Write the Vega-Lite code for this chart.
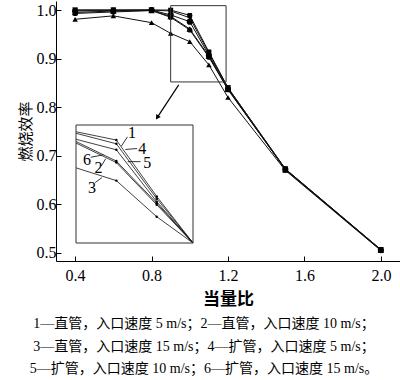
{
  "$schema": "https://vega.github.io/schema/vega-lite/v6.json",
  "width": 344,
  "height": 260,
  "autosize": {"type": "none"},
  "padding": {"left": 56, "top": 1, "right": 0, "bottom": 119},
  "background": "white",
  "config": {
    "view": {"stroke": null},
    "axis": {
      "domainColor": "#000",
      "tickColor": "#000",
      "tickSize": -5,
      "labelFont": "Liberation Serif",
      "labelFontSize": 16,
      "labelColor": "#000",
      "grid": false,
      "titleColor": "#000"
    }
  },
  "datasets": {
    "main": [
      {"s": "1", "x": 0.4, "y": 1.0}, {"s": "1", "x": 0.6, "y": 1.0}, {"s": "1", "x": 0.8, "y": 1.0}, {"s": "1", "x": 0.9, "y": 1.0}, {"s": "1", "x": 1.0, "y": 0.989}, {"s": "1", "x": 1.1, "y": 0.914}, {"s": "1", "x": 1.2, "y": 0.84}, {"s": "1", "x": 1.5, "y": 0.673}, {"s": "1", "x": 2.0, "y": 0.507},
      {"s": "2", "x": 0.4, "y": 0.993}, {"s": "2", "x": 0.6, "y": 0.996}, {"s": "2", "x": 0.8, "y": 0.999}, {"s": "2", "x": 0.9, "y": 0.985}, {"s": "2", "x": 1.0, "y": 0.959}, {"s": "2", "x": 1.1, "y": 0.903}, {"s": "2", "x": 1.2, "y": 0.836}, {"s": "2", "x": 1.5, "y": 0.672}, {"s": "2", "x": 2.0, "y": 0.506},
      {"s": "3", "x": 0.4, "y": 0.981}, {"s": "3", "x": 0.6, "y": 0.988}, {"s": "3", "x": 0.8, "y": 0.974}, {"s": "3", "x": 0.9, "y": 0.952}, {"s": "3", "x": 1.0, "y": 0.935}, {"s": "3", "x": 1.1, "y": 0.887}, {"s": "3", "x": 1.2, "y": 0.82}, {"s": "3", "x": 1.5, "y": 0.67}, {"s": "3", "x": 2.0, "y": 0.505},
      {"s": "4", "x": 0.4, "y": 1.0}, {"s": "4", "x": 0.6, "y": 1.0}, {"s": "4", "x": 0.8, "y": 1.0}, {"s": "4", "x": 0.9, "y": 0.998}, {"s": "4", "x": 1.0, "y": 0.984}, {"s": "4", "x": 1.1, "y": 0.911}, {"s": "4", "x": 1.2, "y": 0.84}, {"s": "4", "x": 1.5, "y": 0.673}, {"s": "4", "x": 2.0, "y": 0.507},
      {"s": "5", "x": 0.4, "y": 0.998}, {"s": "5", "x": 0.6, "y": 0.999}, {"s": "5", "x": 0.8, "y": 1.0}, {"s": "5", "x": 0.9, "y": 0.99}, {"s": "5", "x": 1.0, "y": 0.976}, {"s": "5", "x": 1.1, "y": 0.907}, {"s": "5", "x": 1.2, "y": 0.838}, {"s": "5", "x": 1.5, "y": 0.672}, {"s": "5", "x": 2.0, "y": 0.506},
      {"s": "6", "x": 0.4, "y": 0.995}, {"s": "6", "x": 0.6, "y": 0.998}, {"s": "6", "x": 0.8, "y": 0.999}, {"s": "6", "x": 0.9, "y": 0.987}, {"s": "6", "x": 1.0, "y": 0.961}, {"s": "6", "x": 1.1, "y": 0.905}, {"s": "6", "x": 1.2, "y": 0.837}, {"s": "6", "x": 1.5, "y": 0.672}, {"s": "6", "x": 2.0, "y": 0.506}
    ],
    "box": [{"x1": 0.9, "x2": 1.19, "y1": 0.852, "y2": 1.009}],
    "arrow": [{"x1": 0.942, "y1": 0.846, "x2": 0.832, "y2": 0.78}],
    "labels": [
      {"t": "1", "x": 0.698, "y": 0.747},
      {"t": "4", "x": 0.751, "y": 0.715},
      {"t": "5", "x": 0.777, "y": 0.685},
      {"t": "6", "x": 0.462, "y": 0.691},
      {"t": "2", "x": 0.523, "y": 0.674},
      {"t": "3", "x": 0.488, "y": 0.634}
    ],
    "leaders": [
      {"x1": 0.674, "y1": 0.739, "x2": 0.642, "y2": 0.72},
      {"x1": 0.724, "y1": 0.715, "x2": 0.663, "y2": 0.713},
      {"x1": 0.742, "y1": 0.688, "x2": 0.675, "y2": 0.688},
      {"x1": 0.482, "y1": 0.697, "x2": 0.548, "y2": 0.702},
      {"x1": 0.537, "y1": 0.679, "x2": 0.56, "y2": 0.694},
      {"x1": 0.505, "y1": 0.645, "x2": 0.54, "y2": 0.655}
    ]
  },
  "title": {
    "text": ["1—直管，入口速度 5 m/s；2—直管，入口速度 10 m/s；", "3—直管，入口速度 15 m/s；4—扩管，入口速度 5 m/s；", "5—扩管，入口速度 10 m/s；6—扩管，入口速度 15 m/s。"],
    "orient": "bottom",
    "anchor": "middle",
    "frame": "group",
    "dx": -24,
    "font": "'Liberation Serif', 'Noto Sans CJK SC'",
    "fontSize": 14,
    "fontWeight": "normal",
    "lineHeight": 22.5,
    "color": "#000",
    "offset": 10
  },
  "layer": [
    {
      "layer": [
        {
          "data": {"name": "main"},
          "mark": {"type": "line", "color": "#111", "strokeWidth": 1},
          "encoding": {
            "x": {"field": "x", "type": "quantitative", "scale": {"domain": [0.3, 2.1], "nice": false, "zero": false},
                  "axis": {"values": [0.4, 0.8, 1.2, 1.6, 2.0], "format": ".1f", "title": "当量比", "titleFont": "Noto Sans CJK SC", "titleFontSize": 17, "titleFontWeight": "bold", "titlePadding": 8, "labelPadding": 11}},
            "y": {"field": "y", "type": "quantitative", "scale": {"domain": [0.4835, 1.0186], "nice": false, "zero": false},
                  "axis": {"values": [0.5, 0.6, 0.7, 0.8, 0.9, 1.0], "format": ".1f", "title": "燃烧效率", "titleFont": "'Liberation Serif', 'Noto Sans CJK SC'", "titleFontSize": 15, "titleFontWeight": "normal", "titlePadding": 3, "labelPadding": 5}},
            "detail": {"field": "s"}
          }
        },
        {
          "data": {"name": "main"},
          "mark": {"type": "point", "filled": true, "color": "#000", "opacity": 1},
          "encoding": {
            "x": {"field": "x", "type": "quantitative"},
            "y": {"field": "y", "type": "quantitative"},
            "shape": {"field": "s", "type": "nominal", "legend": null,
                      "scale": {"domain": ["1", "2", "3", "4", "5", "6"], "range": ["square", "circle", "triangle-up", "triangle-down", "circle", "triangle-up"]}},
            "size": {"field": "s", "type": "nominal", "legend": null,
                     "scale": {"domain": ["1", "2", "3", "4", "5", "6"], "range": [22, 42, 36, 36, 36, 30]}}
          }
        },
        {
          "data": {"name": "box"},
          "mark": {"type": "rect", "fill": null, "stroke": "#333", "strokeWidth": 1},
          "encoding": {
            "x": {"field": "x1", "type": "quantitative"}, "x2": {"field": "x2"},
            "y": {"field": "y1", "type": "quantitative"}, "y2": {"field": "y2"}
          }
        },
        {
          "data": {"name": "arrow"},
          "mark": {"type": "rule", "color": "#000", "strokeWidth": 1.2},
          "encoding": {
            "x": {"field": "x1", "type": "quantitative"}, "x2": {"field": "x2"},
            "y": {"field": "y1", "type": "quantitative"}, "y2": {"field": "y2"}
          }
        },
        {
          "data": {"name": "arrow"},
          "mark": {"type": "point", "shape": "triangle", "filled": true, "color": "#000", "opacity": 1, "size": 30, "angle": 213},
          "encoding": {
            "x": {"field": "x2", "type": "quantitative"},
            "y": {"field": "y2", "type": "quantitative"}
          }
        },
        {
          "data": {"name": "leaders"},
          "mark": {"type": "rule", "color": "#000", "strokeWidth": 0.8},
          "encoding": {
            "x": {"field": "x1", "type": "quantitative"}, "x2": {"field": "x2"},
            "y": {"field": "y1", "type": "quantitative"}, "y2": {"field": "y2"}
          }
        },
        {
          "data": {"name": "labels"},
          "mark": {"type": "text", "font": "Liberation Serif", "fontSize": 16, "color": "#000"},
          "encoding": {
            "x": {"field": "x", "type": "quantitative"},
            "y": {"field": "y", "type": "quantitative"},
            "text": {"field": "t"}
          }
        },
        {
          "mark": {"type": "rule", "color": "#333", "strokeWidth": 1},
          "encoding": {"y": {"datum": 1.0186, "type": "quantitative"}}
        }
      ]
    },
    {
      "layer": [
        {
          "data": {"name": "main"},
          "transform": [{"filter": "datum.x >= 0.9 && datum.x <= 1.2"}],
          "mark": {"type": "line", "color": "#111", "strokeWidth": 0.8},
          "encoding": {
            "x": {"field": "x", "type": "quantitative", "scale": {"domain": [0.9, 1.19], "range": [20, 137], "clamp": true, "nice": false, "zero": false}, "axis": null},
            "y": {"field": "y", "type": "quantitative", "scale": {"domain": [0.852, 1.009], "range": [242, 124], "clamp": true, "nice": false, "zero": false}, "axis": null},
            "detail": {"field": "s"}
          }
        },
        {
          "data": {"name": "main"},
          "transform": [{"filter": "datum.x >= 1.0 && datum.x <= 1.1"}],
          "mark": {"type": "point", "shape": "circle", "filled": true, "color": "#000", "opacity": 1, "size": 6},
          "encoding": {
            "x": {"field": "x", "type": "quantitative"},
            "y": {"field": "y", "type": "quantitative"}
          }
        },
        {
          "data": {"name": "box"},
          "mark": {"type": "rect", "fill": null, "stroke": "#333", "strokeWidth": 1},
          "encoding": {
            "x": {"field": "x1", "type": "quantitative"}, "x2": {"field": "x2"},
            "y": {"field": "y1", "type": "quantitative"}, "y2": {"field": "y2"}
          }
        }
      ]
    }
  ],
  "resolve": {"scale": {"x": "independent", "y": "independent"}}
}
